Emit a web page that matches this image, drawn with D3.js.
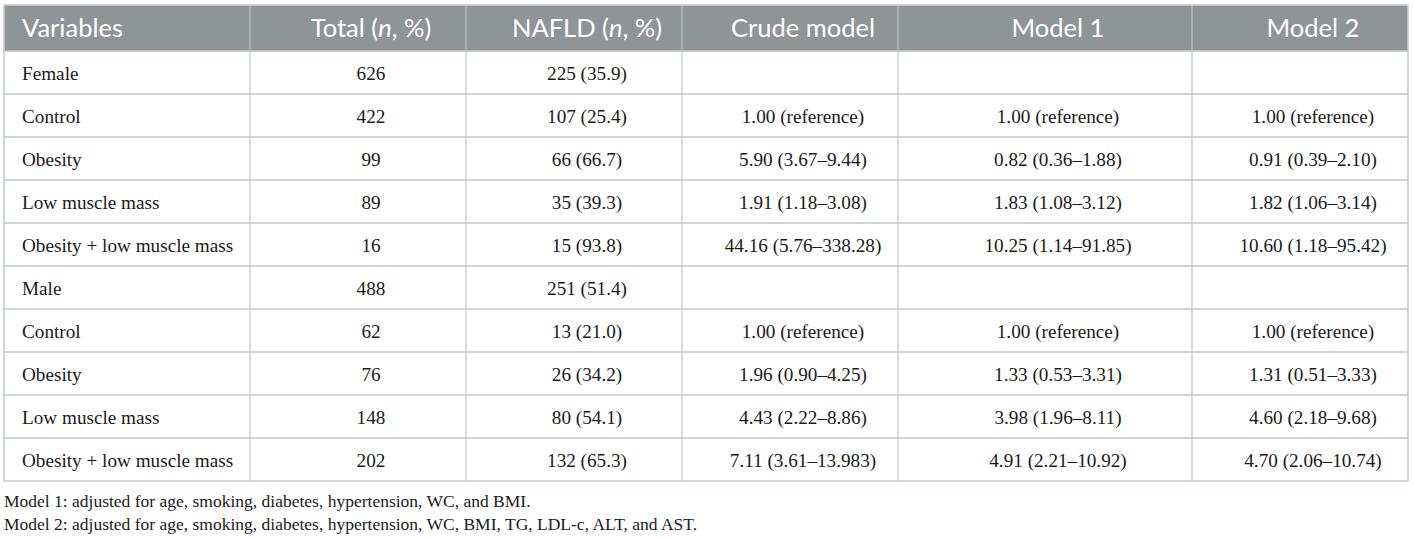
<!DOCTYPE html>
<html><head><meta charset="utf-8">
<script src="https://cdn.jsdelivr.net/npm/d3@7"></script>
<style>html,body{margin:0;padding:0;background:#fff;}svg{display:block;}</style>
</head><body>
<svg id="chart" width="1414" height="539"></svg>
<script>
const headers = [["Variables"],["Total (",{i:"n"},", %)"],["NAFLD (",{i:"n"},", %)"],["Crude model"],["Model 1"],["Model 2"]];
const variables = ["Female","Control","Obesity","Low muscle mass","Obesity + low muscle mass","Male","Control","Obesity","Low muscle mass","Obesity + low muscle mass"];
const totals = ["626","422","99","89","16","488","62","76","148","202"];
const nafld = ["225 (35.9)","107 (25.4)","66 (66.7)","35 (39.3)","15 (93.8)","251 (51.4)","13 (21.0)","26 (34.2)","80 (54.1)","132 (65.3)"];
const crude = ["","1.00 (reference)","5.90 (3.67–9.44)","1.91 (1.18–3.08)","44.16 (5.76–338.28)","","1.00 (reference)","1.96 (0.90–4.25)","4.43 (2.22–8.86)","7.11 (3.61–13.983)"];
const model1 = ["","1.00 (reference)","0.82 (0.36–1.88)","1.83 (1.08–3.12)","10.25 (1.14–91.85)","","1.00 (reference)","1.33 (0.53–3.31)","3.98 (1.96–8.11)","4.91 (2.21–10.92)"];
const model2 = ["","1.00 (reference)","0.91 (0.39–2.10)","1.82 (1.06–3.14)","10.60 (1.18–95.42)","","1.00 (reference)","1.31 (0.51–3.33)","4.60 (2.18–9.68)","4.70 (2.06–10.74)"];
const footnotes = ["Model 1: adjusted for age, smoking, diabetes, hypertension, WC, and BMI.","Model 2: adjusted for age, smoking, diabetes, hypertension, WC, BMI, TG, LDL-c, ALT, and AST."];

(function(){
const columns = [variables, totals, nafld, crude, model1, model2];
const colWeights = [246,216,216,216,294,216];

const svg = d3.select("#chart");
const L = 4, R = 1408, T = 5, headH = 46, B = 481;

const cum = d3.cumsum(colWeights);
const xs = d3.scaleLinear().domain([0, cum[cum.length-1]]).range([L, R]);
const colX0 = i => xs(i === 0 ? 0 : cum[i-1]);
const colX1 = i => xs(cum[i]);

const y = d3.scaleBand().domain(d3.range(variables.length)).range([T+headH, B]);

svg.append("rect").attr("x", L).attr("y", T).attr("width", R-L).attr("height", headH).attr("fill", "#8f9497");

const g = svg.append("g");
g.selectAll("line.row").data(d3.range(1, variables.length)).join("line")
  .attr("x1", L).attr("x2", R).attr("y1", d => y(d)).attr("y2", d => y(d))
  .attr("stroke", "#c4c6c7").attr("stroke-width", 1.3);
g.selectAll("line.col").data(d3.range(1, colWeights.length)).join("line")
  .attr("x1", d => colX0(d)).attr("x2", d => colX0(d)).attr("y1", T).attr("y2", B)
  .attr("stroke", "#c4c6c7").attr("stroke-width", 1.3);
g.selectAll("line.hcol").data(d3.range(1, colWeights.length)).join("line")
  .attr("x1", d => colX0(d)).attr("x2", d => colX0(d)).attr("y1", T).attr("y2", T+headH)
  .attr("stroke", "#a9adb0").attr("stroke-width", 1.3);
svg.append("line").attr("x1", L).attr("x2", R).attr("y1", T+headH).attr("y2", T+headH)
  .attr("stroke", "#c4c6c7").attr("stroke-width", 1.3);
svg.append("rect").attr("x", L).attr("y", T).attr("width", R-L).attr("height", B-T)
  .attr("fill", "none").attr("stroke", "#c3cfcc").attr("stroke-width", 1.6);

const cellX = i => i === 0 ? colX0(0) + 18 : (colX0(i)+colX1(i))/2 + 13;
const anchor = i => i === 0 ? "start" : "middle";

headers.forEach((h, i) => {
  const t = svg.append("text").attr("x", cellX(i)).attr("y", 37)
    .attr("text-anchor", anchor(i)).attr("fill", "#fff")
    .style("font-family", "Lato, 'Open Sans', sans-serif").style("font-size", "25.5px");
  h.forEach(p => {
    if (typeof p === "string") t.append("tspan").text(p);
    else t.append("tspan").style("font-style", "italic").text(p.i);
  });
});

columns.forEach((col, i) => {
  svg.append("g").selectAll("text").data(col).join("text")
    .attr("x", cellX(i)).attr("y", (d, r) => y(r) + y.bandwidth()/2 + 7.5)
    .attr("text-anchor", anchor(i)).attr("fill", "#1a1a1a")
    .style("font-family", "'Liberation Serif', 'Times New Roman', serif").style("font-size", "19.2px")
    .text(d => d);
});

svg.append("g").selectAll("text").data(footnotes).join("text")
  .attr("x", L).attr("y", (d, i) => 507 + i*23)
  .attr("fill", "#1a1a1a")
  .style("font-family", "'Liberation Serif', 'Times New Roman', serif").style("font-size", "17.5px")
  .text(d => d);
})();
</script>
</body></html>
